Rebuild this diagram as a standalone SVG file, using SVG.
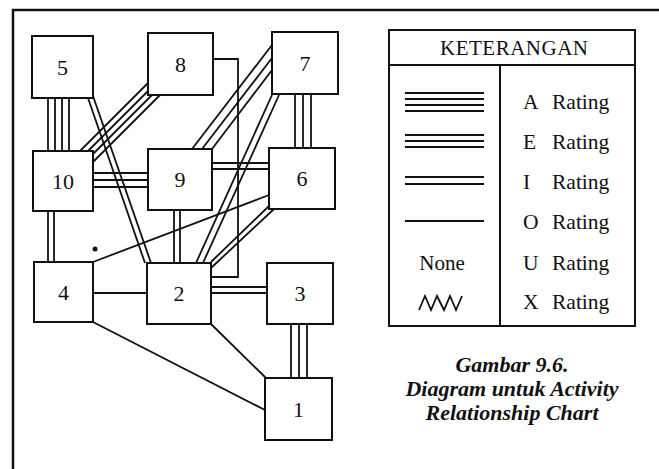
<svg xmlns="http://www.w3.org/2000/svg" width="659" height="469" viewBox="0 0 659 469">
<style>
.c line,.c path,.c polyline{stroke:#111;stroke-width:1.8;fill:none}
.n rect{fill:#fff;stroke:#111;stroke-width:2}
.n text{font-family:"Liberation Serif","Times New Roman",serif;font-size:22px;fill:#111;text-anchor:middle}
.lbl{font-family:"Liberation Serif","Times New Roman",serif;font-size:21px;fill:#111;text-anchor:middle}
.lg{font-family:"Liberation Serif","Times New Roman",serif;font-size:21.5px;fill:#111}
.cap{font-family:"Liberation Serif","Times New Roman",serif;font-size:22px;font-weight:bold;font-style:italic;fill:#111;text-anchor:middle}
.fr{stroke:#111;stroke-width:2.5;fill:none}
.lgl line,.lgl polyline{stroke:#111;stroke-width:1.8;fill:none}
</style>
<rect width="659" height="469" fill="#fff"/>
<path class="fr" d="M13,469 V10 H659"/>

<g id="connectors" class="c">
  <!-- 5-10 A -->
  <line x1="48" y1="98" x2="48" y2="151"/><line x1="55" y1="98" x2="55" y2="151"/>
  <line x1="62" y1="98" x2="62" y2="151"/><line x1="69" y1="98" x2="69" y2="151"/>
  <!-- 8-10 A -->
  <line x1="156" y1="75" x2="61" y2="170"/><line x1="164" y1="75" x2="69" y2="170"/>
  <line x1="172" y1="75" x2="77" y2="170"/><line x1="180" y1="75" x2="85" y2="170"/>
  <!-- 5-2 I -->
  <line x1="88" y1="98" x2="145" y2="263"/><line x1="93" y1="96" x2="151" y2="263"/>
  <!-- 8-2 O -->
  <path d="M213,59 H238 V277 H211"/>
  <!-- 7-9 E -->
  <line x1="192" y1="149" x2="272" y2="45"/><line x1="202" y1="149" x2="272" y2="58"/>
  <line x1="212" y1="149" x2="272" y2="70"/>
  <!-- 7-2 I -->
  <line x1="196" y1="263" x2="272" y2="95"/><line x1="203" y1="263" x2="279" y2="95"/>
  <!-- 7-6 E -->
  <line x1="295" y1="94" x2="295" y2="148"/><line x1="303" y1="94" x2="303" y2="148"/>
  <line x1="311" y1="94" x2="311" y2="148"/>
  <!-- 10-9 E -->
  <line x1="93" y1="173" x2="148" y2="173"/><line x1="93" y1="180" x2="148" y2="180"/>
  <line x1="93" y1="187" x2="148" y2="187"/>
  <!-- 9-6 I -->
  <line x1="212" y1="163" x2="269" y2="163"/><line x1="212" y1="169" x2="269" y2="169"/>
  <!-- 6-4 O -->
  <line x1="269" y1="195" x2="93" y2="262"/>
  <!-- 6-2 I -->
  <line x1="270" y1="205" x2="211" y2="262"/><line x1="274" y1="209" x2="211" y2="268"/>
  <!-- 10-4 I -->
  <line x1="48" y1="211" x2="48" y2="262"/><line x1="54" y1="211" x2="54" y2="262"/>
  <!-- 9-2 I -->
  <line x1="174" y1="210" x2="174" y2="263"/><line x1="180" y1="210" x2="180" y2="263"/>
  <!-- 4-2 O -->
  <line x1="93" y1="293" x2="147" y2="293"/>
  <!-- 2-3 I -->
  <line x1="211" y1="287" x2="267" y2="287"/><line x1="211" y1="293" x2="267" y2="293"/>
  <!-- 3-1 E -->
  <line x1="291" y1="324" x2="291" y2="378"/><line x1="299" y1="324" x2="299" y2="378"/>
  <line x1="307" y1="324" x2="307" y2="378"/>
  <!-- 4-1 O -->
  <line x1="93" y1="322" x2="265" y2="410"/>
  <!-- 2-1 O -->
  <line x1="211" y1="324" x2="266" y2="378"/>
</g>
<circle cx="95" cy="249" r="2.5" fill="#111"/>

<g id="node-5" class="n"><rect x="32" y="36" width="61" height="62"/><text x="62.5" y="75">5</text></g>
<g id="node-8" class="n"><rect x="148" y="33" width="65" height="62"/><text x="180.5" y="72">8</text></g>
<g id="node-7" class="n"><rect x="272" y="32" width="66" height="62"/><text x="305" y="71">7</text></g>
<g id="node-10" class="n"><rect x="33" y="151" width="60" height="60"/><text x="63" y="189">10</text></g>
<g id="node-9" class="n"><rect x="148" y="149" width="64" height="61"/><text x="180" y="187">9</text></g>
<g id="node-6" class="n"><rect x="269" y="148" width="66" height="61"/><text x="302" y="186">6</text></g>
<g id="node-4" class="n"><rect x="34" y="262" width="59" height="60"/><text x="63.5" y="300">4</text></g>
<g id="node-2" class="n"><rect x="147" y="263" width="64" height="61"/><text x="179" y="301">2</text></g>
<g id="node-3" class="n"><rect x="267" y="263" width="66" height="61"/><text x="300" y="301">3</text></g>
<g id="node-1" class="n"><rect x="265" y="378" width="67" height="62"/><text x="298.5" y="417">1</text></g>

<g id="legend">
  <rect x="389" y="30" width="246" height="296" fill="#fff" stroke="#111" stroke-width="2"/>
  <line x1="389" y1="65" x2="635" y2="65" stroke="#111" stroke-width="2"/>
  <line x1="500" y1="65" x2="500" y2="326" stroke="#111" stroke-width="2"/>
  <text class="lbl" x="514" y="55" textLength="148" lengthAdjust="spacing">KETERANGAN</text>
  <g class="lgl">
    <line x1="405" y1="93" x2="484" y2="93"/><line x1="405" y1="99" x2="484" y2="99"/>
    <line x1="405" y1="105" x2="484" y2="105"/><line x1="405" y1="111" x2="484" y2="111"/>
    <line x1="405" y1="135" x2="484" y2="135"/><line x1="405" y1="141" x2="484" y2="141"/>
    <line x1="405" y1="147" x2="484" y2="147"/>
    <line x1="405" y1="177" x2="484" y2="177"/><line x1="405" y1="184" x2="484" y2="184"/>
    <line x1="405" y1="221" x2="484" y2="221"/>
    <polyline points="419,310 425,296 431,310 437,296 444,310 450,296 456,310 462,296"/>
  </g>
  <text class="lbl" x="442" y="270">None</text>
  <text class="lg" x="523" y="109">A</text><text class="lg" x="552" y="109">Rating</text>
  <text class="lg" x="523" y="149">E</text><text class="lg" x="552" y="149">Rating</text>
  <text class="lg" x="523" y="189">I</text><text class="lg" x="552" y="189">Rating</text>
  <text class="lg" x="523" y="229">O</text><text class="lg" x="552" y="229">Rating</text>
  <text class="lg" x="523" y="270">U</text><text class="lg" x="552" y="270">Rating</text>
  <text class="lg" x="523" y="309">X</text><text class="lg" x="552" y="309">Rating</text>
</g>

<g id="caption">
  <text class="cap" x="512" y="372">Gambar 9.6.</text>
  <text class="cap" x="512" y="396">Diagram untuk Activity</text>
  <text class="cap" x="512" y="420">Relationship Chart</text>
</g>
</svg>
